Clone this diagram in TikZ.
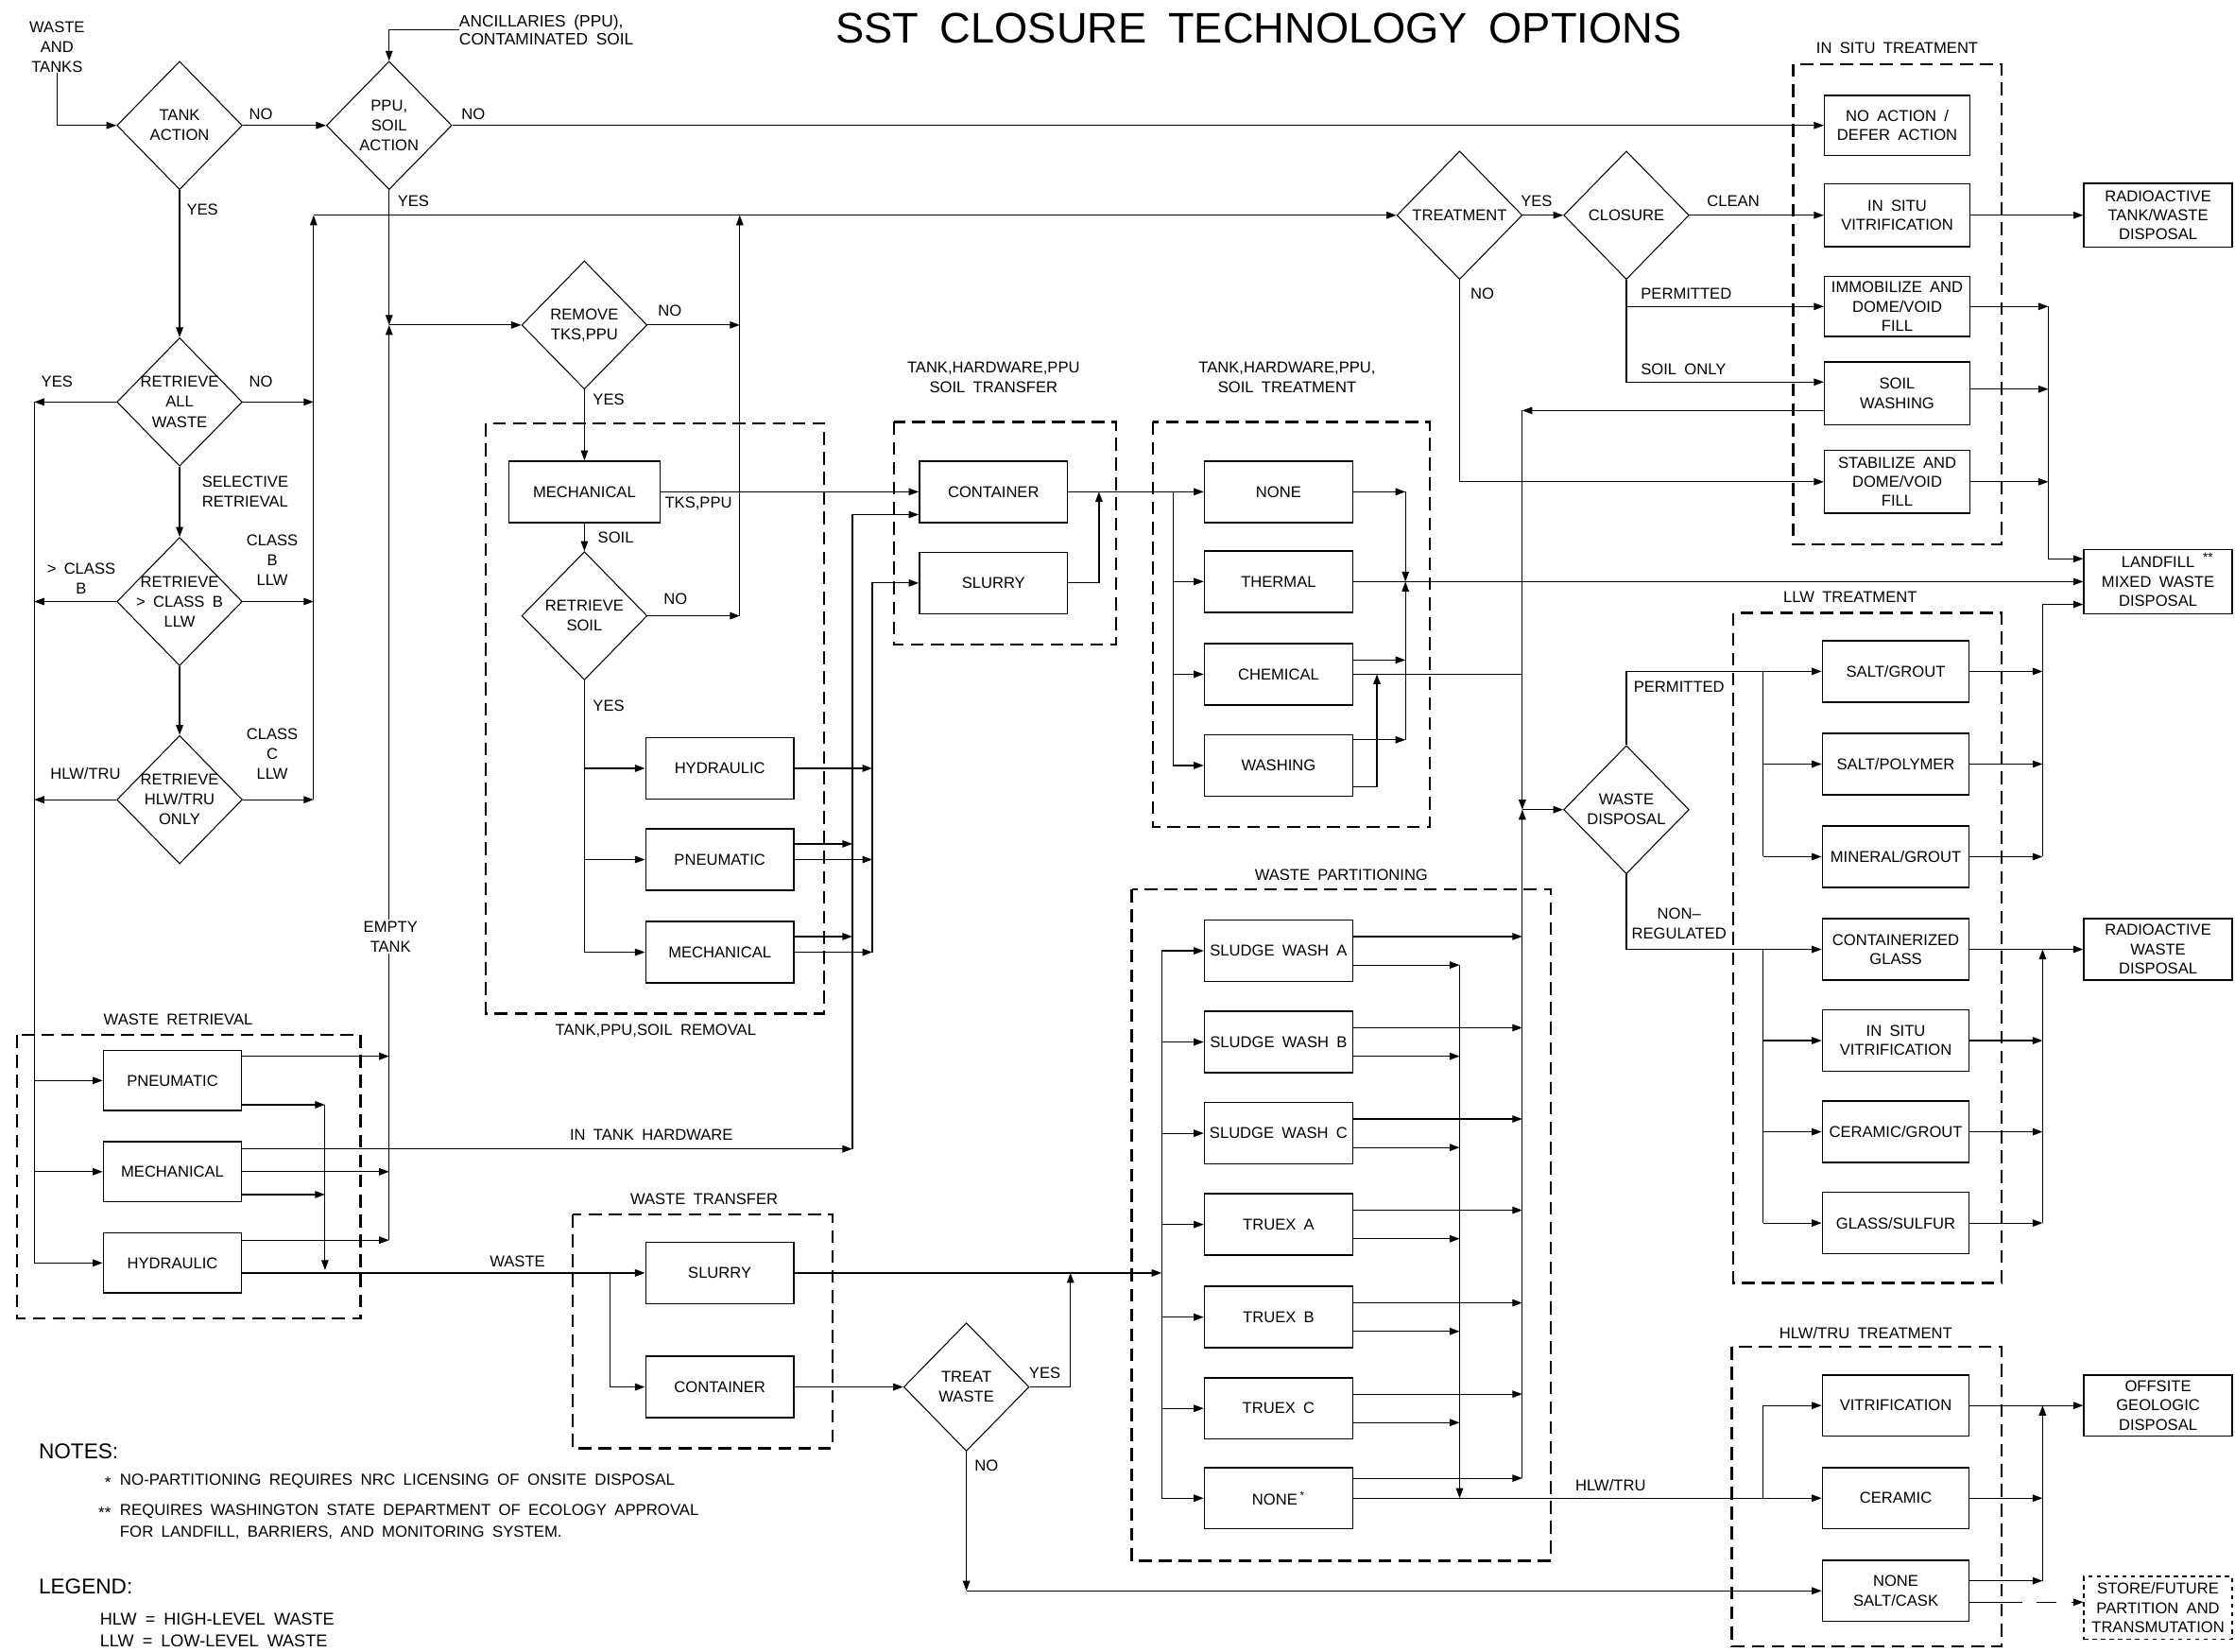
\documentclass[tikz,border=0pt]{standalone}
\usepackage{fontspec}
\setmainfont{Liberation Sans}[WordSpace=1.8]
\usetikzlibrary{shapes.geometric,arrows.meta,calc}
\begin{document}
\begin{tikzpicture}[x=1pt,y=-1pt,
  lab/.style={font=\fontsize{11}{14}\selectfont, align=center, inner sep=0pt},
  sm/.style={font=\fontsize{11.2}{15}\selectfont, align=left, anchor=west, inner sep=0pt},
  bx/.style={draw, line width=1pt, minimum width=104pt, minimum height=43pt, inner sep=0pt, align=center, font=\fontsize{11}{13.5}\selectfont},
  dia/.style={draw, diamond, line width=0.7pt, minimum width=88pt, minimum height=90pt, inner sep=0pt},
  grp/.style={draw, line width=1.5pt, dash pattern=on 9pt off 5pt},
  ln/.style={line width=0.8pt},
  arr/.style={line width=0.8pt, -{Triangle[length=7pt,width=5pt]}},
]
\useasboundingbox (0,0) rectangle (1568,1158.4);
\fill[white] (0,0) rectangle (1568,1158.4);

% ---------- title ----------
\node[font=\fontsize{30}{34}\selectfont, inner sep=0pt] (title) at (883,20) {SST CLOSURE TECHNOLOGY OPTIONS};

% ---------- groups ----------
\draw[grp] (1258,45) rectangle (1404,382);
\draw[grp] (1216,430) rectangle (1404,900);
\draw[grp] (1215,945) rectangle (1404,1155);
\draw[grp] (794,624) rectangle (1088,1095);
\draw[grp] (809,296) rectangle (1003,580);
\draw[grp] (627,296) rectangle (783,452);
\draw[grp] (341,297) rectangle (578,711);
\draw[grp] (12,726) rectangle (253,925);
\draw[grp] (402,852) rectangle (584,1016);
\node[lab] (g1) at (1331,34) {IN SITU TREATMENT};
\node[lab] (g2) at (1298,419) {LLW TREATMENT};
\node[lab] (g3) at (1309,935) {HLW/TRU TREATMENT};
\node[lab] (g4) at (941,614) {WASTE PARTITIONING};
\node[lab] (g5) at (903,265) {TANK,HARDWARE,PPU,\\SOIL TREATMENT};
\node[lab] (g6) at (697,265) {TANK,HARDWARE,PPU\\SOIL TRANSFER};
\node[lab] (g7) at (460,723) {TANK,PPU,SOIL REMOVAL};
\node[lab] (g8) at (125,715) {WASTE RETRIEVAL};
\node[lab] (g9) at (494,841) {WASTE TRANSFER};

% ---------- diamonds ----------
\node[lab] (wat) at (40,33) {WASTE\\AND\\TANKS};
\node[dia] (ta) at (126,88) {};   \node[lab] (tat) at (ta) {TANK\\ACTION};
\node[dia] (ppu) at (273,88) {};  \node[lab] (ppt) at (ppu) {PPU,\\SOIL\\ACTION};
\node[lab, align=left, anchor=west, font=\fontsize{11.5}{13}\selectfont] (anc) at (322,21) {ANCILLARIES (PPU),\\CONTAMINATED SOIL};
\node[dia] (raw) at (126,282) {}; \node[lab] (rawt) at (raw) {RETRIEVE\\ALL\\WASTE};
\node[dia] (rcb) at (126,422) {}; \node[lab] (rcbt) at (rcb) {RETRIEVE\\> CLASS B\\LLW};
\node[dia] (rhl) at (126,561) {}; \node[lab] (rhlt) at (rhl) {RETRIEVE\\HLW/TRU\\ONLY};
\node[dia] (rem) at (410,228) {}; \node[lab] (remt) at (rem) {REMOVE\\TKS,PPU};
\node[dia] (rsoil) at (410,432) {}; \node[lab] (rsoilt) at (rsoil) {RETRIEVE\\SOIL};
\node[dia] (trt) at (1024,151) {}; \node[lab] (trtt) at (trt) {TREATMENT};
\node[dia] (clo) at (1141,151) {}; \node[lab] (clot) at (clo) {CLOSURE};
\node[dia] (wd) at (1141,568) {};  \node[lab] (wdt) at (wd) {WASTE\\DISPOSAL};
\node[dia] (tw) at (678,973) {};   \node[lab] (twt) at (tw) {TREAT\\WASTE};

% ---------- boxes ----------
\node[bx, minimum width=106pt] (mech1) at (410,345) {MECHANICAL};
\node[bx] (cont1) at (697,345) {CONTAINER};
\node[bx] (slur1) at (697,409) {SLURRY};
\node[bx] (none1) at (897,345) {NONE};
\node[bx] (therm) at (897,408) {THERMAL};
\node[bx] (chem) at (897,473) {CHEMICAL};
\node[bx] (wash) at (897,537) {WASHING};
\node[bx] (hyd1) at (505,539) {HYDRAULIC};
\node[bx] (pneu1) at (505,603) {PNEUMATIC};
\node[bx] (mech2) at (505,668) {MECHANICAL};

\node[bx, minimum width=102pt, minimum height=42pt] (noact) at (1331,88) {NO ACTION /\\DEFER ACTION};
\node[bx, minimum width=102pt, minimum height=44pt] (isv1) at (1331,151) {IN SITU\\VITRIFICATION};
\node[bx, minimum width=102pt, minimum height=42pt] (immo) at (1331,215) {IMMOBILIZE AND\\DOME/VOID\\FILL};
\node[bx, minimum width=102pt, minimum height=44pt] (soilw) at (1331,276) {SOIL\\WASHING};
\node[bx, minimum width=102pt, minimum height=44pt] (stab) at (1331,338) {STABILIZE AND\\DOME/VOID\\FILL};

\node[bx, minimum height=45pt] (radtw) at (1514,151) {RADIOACTIVE\\TANK/WASTE\\DISPOSAL};
\node[bx, minimum height=45pt] (landf) at (1514,408) {LANDFILL\\MIXED WASTE\\DISPOSAL};
\node[font=\fontsize{9}{9}\selectfont, inner sep=0pt] (star2) at (1549,391) {**};
\node[bx] (radw) at (1514,666) {RADIOACTIVE\\WASTE\\DISPOSAL};
\node[bx] (offs) at (1514,986) {OFFSITE\\GEOLOGIC\\DISPOSAL};
\node[bx, dashed, minimum height=44pt] (store) at (1514,1128) {STORE/FUTURE\\PARTITION AND\\TRANSMUTATION};

\node[bx, minimum width=103pt] (saltg) at (1330,471) {SALT/GROUT};
\node[bx, minimum width=103pt] (saltp) at (1330,536) {SALT/POLYMER};
\node[bx, minimum width=103pt] (ming) at (1330,601) {MINERAL/GROUT};
\node[bx, minimum width=103pt] (cglass) at (1330,666) {CONTAINERIZED\\GLASS};
\node[bx, minimum width=103pt] (isv2) at (1330,730) {IN SITU\\VITRIFICATION};
\node[bx, minimum width=103pt] (cerg) at (1330,794) {CERAMIC/GROUT};
\node[bx, minimum width=103pt] (glsul) at (1330,858) {GLASS/SULFUR};

\node[bx, minimum width=103pt] (vit) at (1330,986) {VITRIFICATION};
\node[bx, minimum width=103pt] (cer) at (1330,1051) {CERAMIC};
\node[bx, minimum width=103pt] (nsc) at (1330,1116) {NONE\\SALT/CASK};

\node[bx] (swa) at (897,667) {SLUDGE WASH A};
\node[bx] (swb) at (897,731) {SLUDGE WASH B};
\node[bx] (swc) at (897,795) {SLUDGE WASH C};
\node[bx] (txa) at (897,859) {TRUEX A};
\node[bx] (txb) at (897,924) {TRUEX B};
\node[bx] (txc) at (897,988) {TRUEX C};
\node[bx] (nonep) at (897,1051) {NONE\,\textsuperscript{*}};

\node[bx, minimum width=97pt, minimum height=42pt] (pneu2) at (121,758) {PNEUMATIC};
\node[bx, minimum width=97pt, minimum height=42pt] (mech3) at (121,822) {MECHANICAL};
\node[bx, minimum width=97pt, minimum height=42pt] (hyd2) at (121,886) {HYDRAULIC};
\node[bx] (slur2) at (505,893) {SLURRY};
\node[bx] (cont2) at (505,973) {CONTAINER};

% ---------- connectors: top left ----------
\draw[arr] (wat.south) |- (ta.west);
\draw[arr] (ta.east) -- (ppu.west);
\draw[arr] (anc.west) -| (ppu.north);
\draw[arr] (ppu.east) -- (noact.west);
\draw[arr] (ta.south) -- (raw.north);
\coordinate (j1) at (ppu.south |- rem.west);
\coordinate (et) at (273,870);
\draw[arr] (ppu.south) -- (j1);
\draw[arr] (et) -- (j1);
\draw[arr] (j1) -- (rem.west);

\coordinate (h1) at (220,151);
\coordinate (h1b) at (220,561);
\draw[arr] (h1b) -- (h1);
\draw[arr] (h1) -- (trt.west);
\draw[arr] (raw.east) -- (raw.east -| h1);
\draw[arr] (rcb.east) -- (rcb.east -| h1);
\draw[arr] (rhl.east) -- (rhl.east -| h1);
\draw[arr] (raw.south) -- (rcb.north);
\draw[arr] (rcb.south) -- (rhl.north);

\coordinate (h2) at (519,151);
\coordinate (h2b) at (519,432);
\draw[arr] (h2b) -- (h2);
\draw[arr] (rem.east) -- (rem.east -| h2);
\draw[arr] (rsoil.east) -- (rsoil.east -| h2);

\coordinate (l1) at (24,282);
\coordinate (l1b) at (24,886);
\draw[ln] (l1) -- (l1b);
\draw[arr] (raw.west) -- (l1);
\draw[arr] (rcb.west) -- (rcb.west -| l1);
\draw[arr] (rhl.west) -- (rhl.west -| l1);
\draw[arr] (pneu2.west -| l1) -- (pneu2.west);
\draw[arr] (mech3.west -| l1) -- (mech3.west);
\draw[arr] (hyd2.west -| l1) -- (hyd2.west);

% ---------- removal ----------
\draw[arr] (rem.south) -- (mech1.north);
\draw[arr] (mech1.east) -- (cont1.west);
\draw[arr] (mech1.south) -- (rsoil.north);
\draw[ln] (rsoil.south) -- (rsoil.south |- mech2.west);
\draw[arr] (rsoil.south |- hyd1.west) -- (hyd1.west);
\draw[arr] (rsoil.south |- pneu1.west) -- (pneu1.west);
\draw[arr] (rsoil.south |- mech2.west) -- (mech2.west);
\coordinate (s1) at (598,806);
\coordinate (s2) at (612,668);
\draw[arr] (s1) |- (cont1.west |- 0,361);
\draw[arr] (s2) |- (slur1.west);
\draw[arr] (hyd1.east) -- (hyd1.east -| s2);
\draw[arr] (pneu1.east |- 0,592) -- (s1 |- 0,592);
\draw[arr] (pneu1.east) -- (pneu1.east -| s2);
\draw[arr] (mech2.east |- 0,657) -- (s1 |- 0,657);
\draw[arr] (mech2.east) -- (s2);
\draw[arr] (mech3.east |- 0,806) -- (s1);

% ---------- transfer / treatment ----------
\draw[arr] (cont1.east) -- (none1.west);
\draw[arr] (slur1.east) -| (771,345);
\coordinate (t1) at (823,345);
\draw[ln] (t1) -- (823,537);
\draw[arr] (therm.west -| t1) -- (therm.west);
\draw[arr] (chem.west -| t1) -- (chem.west);
\draw[arr] (wash.west -| t1) -- (wash.west);
\coordinate (t2) at (986,408);
\coordinate (t3) at (986,345);
\coordinate (t4) at (986,519);
\draw[arr] (none1.east) -- (t3);
\draw[arr] (t3) -- (t2);
\draw[arr] (t4) -- (t2);
\draw[arr] (chem.east |- 0,463) -- (t2 |- 0,463);
\draw[arr] (wash.east |- 0,519) -- (t4);
\draw[arr] (therm.east) -- (landf.west);
\draw[ln] (chem.east) -- (1068,473);
\draw[arr] (wash.east |- 0,552) -| (966,473);

% ---------- x=1068 trunk ----------
\coordinate (k1) at (1068,288);
\coordinate (k2) at (1068,568);
\coordinate (k3) at (1068,1037);
\draw[arr] (soilw.west |- k1) -- (k1);
\draw[arr] (k1) -- (k2);
\draw[arr] (k3) -- (k2);
\draw[arr] (k2) -- (wd.west);
\draw[arr] (swa.east |- 0,657) -- (k1 |- 0,657);
\draw[arr] (swb.east |- 0,721) -- (k1 |- 0,721);
\draw[arr] (swc.east |- 0,785) -- (k1 |- 0,785);
\draw[arr] (txa.east |- 0,849) -- (k1 |- 0,849);
\draw[arr] (txb.east |- 0,914) -- (k1 |- 0,914);
\draw[arr] (txc.east |- 0,978) -- (k1 |- 0,978);
\draw[arr] (nonep.east |- k3) -- (k3);
\coordinate (p1) at (1024,677);
\coordinate (p2) at (1024,1051);
\draw[arr] (p1) -- (p2);
\draw[arr] (swa.east |- p1) -- (p1);
\draw[arr] (swb.east |- 0,741) -- (p1 |- 0,741);
\draw[arr] (swc.east |- 0,805) -- (p1 |- 0,805);
\draw[arr] (txa.east |- 0,869) -- (p1 |- 0,869);
\draw[arr] (txb.east |- 0,934) -- (p1 |- 0,934);
\draw[arr] (txc.east |- 0,998) -- (p1 |- 0,998);

% ---------- partition input ----------
\coordinate (p0) at (815,893);
\draw[arr] (slur2.east) -- (p0);
\draw[ln] (swa.west -| p0) -- (nonep.west -| p0);
\draw[arr] (swa.west -| p0) -- (swa.west);
\draw[arr] (swb.west -| p0) -- (swb.west);
\draw[arr] (swc.west -| p0) -- (swc.west);
\draw[arr] (txa.west -| p0) -- (txa.west);
\draw[arr] (txb.west -| p0) -- (txb.west);
\draw[arr] (txc.west -| p0) -- (txc.west);
\draw[arr] (nonep.west -| p0) -- (nonep.west);

% ---------- closure ----------
\draw[arr] (trt.east) -- (clo.west);
\draw[arr] (clo.east) -- (isv1.west);
\draw[arr] (trt.south) |- (stab.west);
\draw[arr] (clo.south) |- (immo.west);
\draw[arr] (clo.south) |- (soilw.west |- 0,268);
\draw[arr] (isv1.east) -- (radtw.west);
\coordinate (r1) at (1437,215);
\draw[arr] (immo.east) -- (r1);
\draw[arr] (soilw.east |- 0,273) -- (r1 |- 0,273);
\draw[arr] (stab.east) -- (stab.east -| r1);
\draw[arr] (r1) |- (landf.west |- 0,392);

% ---------- LLW ----------
\draw[arr] (wd.north) |- (saltg.west);
\coordinate (q1) at (1237,471);
\draw[ln] (q1) -- (q1 |- ming.west);
\draw[arr] (saltp.west -| q1) -- (saltp.west);
\draw[arr] (ming.west -| q1) -- (ming.west);
\draw[arr] (wd.south) |- (cglass.west);
\draw[ln] (cglass.west -| q1) -- (glsul.west -| q1);
\draw[arr] (isv2.west -| q1) -- (isv2.west);
\draw[arr] (cerg.west -| q1) -- (cerg.west);
\draw[arr] (glsul.west -| q1) -- (glsul.west);
\coordinate (q2) at (1433,601);
\draw[arr] (saltg.east) -- (saltg.east -| q2);
\draw[arr] (saltp.east) -- (saltp.east -| q2);
\draw[arr] (ming.east) -- (q2);
\draw[arr] (q2) |- (landf.west |- 0,424);
\draw[arr] (cglass.east) -- (radw.west);
\draw[arr] (glsul.east -| q2) -- (cglass.east -| q2);
\draw[arr] (isv2.east) -- (isv2.east -| q2);
\draw[arr] (cerg.east) -- (cerg.east -| q2);
\draw[arr] (glsul.east) -- (glsul.east -| q2);

% ---------- HLW ----------
\draw[arr] (nonep.east) -- (cer.west);
\draw[arr] (cer.west -| q1) |- (vit.west);
\draw[arr] (vit.east) -- (offs.west);
\draw[arr] (nsc.east -| q2) ++(0,-7) coordinate (q3) -- (vit.east -| q2);
\draw[arr] (cer.east) -- (cer.east -| q2);
\draw[arr] (nsc.east |- q3) -- (q3);
\draw[ln] (nsc.east |- 0,1124) -- (1405,1124);
\draw[arr, dash pattern=on 14pt off 10pt] (1405,1124) -- (store.west |- 0,1124);

% ---------- waste retrieval / transfer ----------
\draw[arr] (pneu2.east |- 0,741) -- (et |- 0,741);
\draw[arr] (mech3.east) -- (mech3.east -| et);
\draw[arr] (hyd2.east |- et) -- (et);
\draw[arr] (pneu2.east |- 0,775) -- (228,775);
\draw[arr] (mech3.east |- 0,838) -- (228,838);
\draw[arr] (228,775) -- (228,891);
\draw[arr] (hyd2.east |- 0,893) -- (slur2.west);
\draw[arr] (428,893) |- (cont2.west);
\draw[arr] (cont2.east) -- (tw.west);
\draw[arr] (tw.east) -| (751,893);
\coordinate (twn) at (tw.south |- nsc.west);
\draw[arr] (tw.south) -- (twn);
\draw[arr] (twn) -- (nsc.west);

% ---------- labels ----------
\node[lab] (a1) at (183,80) {NO};
\node[lab] (a2) at (332,80) {NO};
\node[lab] (a3) at (142,147) {YES};
\node[lab] (a4) at (290,141) {YES};
\node[lab] (a5) at (40,268) {YES};
\node[lab] (a6) at (183,268) {NO};
\node[lab] (a7) at (172,345) {SELECTIVE\\RETRIEVAL};
\node[lab] (a8) at (57,406) {> CLASS\\B};
\node[lab] (a9) at (191,393) {CLASS\\B\\LLW};
\node[lab] (a10) at (60,543) {HLW/TRU};
\node[lab] (a11) at (191,529) {CLASS\\C\\LLW};
\node[lab] (a12) at (470,218) {NO};
\node[lab] (a13) at (427,280) {YES};
\node[lab] (a14) at (490,353) {TKS,PPU};
\node[lab] (a15) at (432,377) {SOIL};
\node[lab] (a16) at (474,420) {NO};
\node[lab] (a17) at (427,495) {YES};
\node[lab, fill=white, inner sep=1pt] (a18) at (274,657) {EMPTY\\TANK};
\node[lab] (a19) at (457,796) {IN TANK HARDWARE};
\node[lab] (a20) at (363,885) {WASTE};
\node[lab] (a21) at (733,963) {YES};
\node[lab] (a22) at (692,1028) {NO};
\node[lab] (a23) at (1078,141) {YES};
\node[lab] (a24) at (1216,141) {CLEAN};
\node[lab] (a25) at (1040,206) {NO};
\node[lab] (a26) at (1183,206) {PERMITTED};
\node[lab] (a27) at (1181,259) {SOIL ONLY};
\node[lab] (a28) at (1178,482) {PERMITTED};
\node[lab] (a29) at (1178,648) {NON--\\REGULATED};
\node[lab] (a30) at (1130,1042) {HLW/TRU};

% ---------- notes / legend ----------
\node[anchor=west, inner sep=0pt, font=\fontsize{15}{17}\selectfont] (notes) at (27,1018) {NOTES:};
\node[sm, anchor=east] (b1) at (78,1040) {*};
\node[sm] (n1) at (84,1039) {NO-PARTITIONING REQUIRES NRC LICENSING OF ONSITE DISPOSAL};
\node[sm, anchor=east] (b2) at (78,1061) {**};
\node[sm, font=\fontsize{11.1}{15}\selectfont] (n2) at (84,1067.5) {REQUIRES WASHINGTON STATE DEPARTMENT OF ECOLOGY APPROVAL\\FOR LANDFILL, BARRIERS, AND MONITORING SYSTEM.};
\node[anchor=west, inner sep=0pt, font=\fontsize{15}{17}\selectfont] (legend) at (27,1113) {LEGEND:};
\node[sm, font=\fontsize{12}{15}\selectfont] (lg) at (70,1143.5) {HLW = HIGH-LEVEL WASTE\\LLW = LOW-LEVEL WASTE};
\end{tikzpicture}
\end{document}
